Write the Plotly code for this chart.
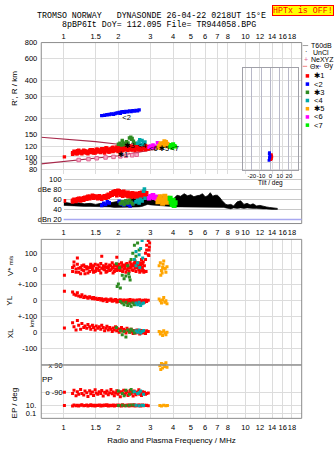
import math
import plotly.graph_objects as go

# ---------------- data ----------------
top_ticks = [1, 1.5, 2, 3, 4, 5, 6, 7, 8, 10, 12, 14, 16, 18]
mid_ticks = [1, 1.5, 2, 3, 4, 5, 6, 7, 8, 9, 10, 12, 14, 16, 18]
height_ticks = [80, 90, 100, 120, 150, 200, 300, 400, 600, 800]
amp_ticks = [100, 80, 60, 40, 20]
amp_ticktext = ["100", "dBe 80", "60", "40", "dBn 20"]
noise_level_db = 20
tilt_ticks = [-20, -10, 0, 10, 20]

# series 1 (red) echoes
red_f = [1.01, 1.12, 1.14, 1.17, 1.19, 1.21, 1.24, 1.26, 1.29, 1.31, 1.34, 1.36, 1.39, 1.41, 1.44, 1.46,
         1.49, 1.51, 1.54, 1.57, 1.60, 1.62, 1.65, 1.68, 1.71, 1.73, 1.76, 1.79, 1.82, 1.85, 1.87, 1.90,
         1.93, 1.96, 1.99, 2.02, 2.05, 2.08, 2.11, 2.14, 2.17, 2.20, 2.23, 2.26, 2.29, 2.32, 2.35, 2.38,
         2.41, 2.44, 2.47, 2.50, 2.53, 2.56, 2.59, 2.62, 2.65, 2.68, 2.71, 2.74, 2.78, 2.82, 2.86, 2.92]
red_h = [100, 108, 111, 106, 112, 109, 107, 110, 113, 108, 111, 106, 109, 114, 110, 112,
         107, 115, 111, 109, 113, 116, 110, 112, 118, 111, 114, 109, 116, 113, 119, 112,
         115, 117, 110, 121, 114, 118, 112, 116, 120, 115, 113, 119, 117, 122, 114, 118,
         121, 116, 119, 124, 117, 115, 122, 120, 118, 125, 116, 121, 119, 123, 117, 116]
red_h2 = [None, 105, 107, 110, 106, 113, 111, 106, 108, 112, 107, 110, 113, 108, 114, 107,
          112, 109, 115, 113, 108, 111, 116, 107, 113, 117, 109, 115, 111, 118, 110, 116,
          112, 120, 115, 112, 119, 111, 122, 113, 116, 124, 118, 112, 122, 116, 120, 113,
          117, 123, 112, 118, 121, 126, 113, 117, 123, 114, 120, 117, 124, 114, 120, 121]
red_db = [57, 58, 60, 56, 61, 59, 62, 60, 63, 61, 64, 62, 66, 63, 65, 67,
          64, 66, 63, 65, 62, 64, 66, 63, 65, 68, 64, 67, 70, 73, 75, 72,
          77, 74, 78, 71, 75, 69, 73, 76, 70, 72, 68, 74, 66, 71, 69, 73,
          67, 70, 66, 72, 68, 71, 65, 73, 69, 74, 70, 72, 75, 71, 66, 62]
red_db2 = [None, 55, 57, 59, 58, 62, 57, 61, 58, 64, 60, 66, 61, 64, 68, 62,
           66, 63, 61, 67, 64, 60, 63, 67, 62, 65, 70, 66, 73, 68, 71, 76,
           70, 67, 73, 77, 68, 72, 66, 70, 74, 67, 71, 65, 72, 68, 64, 70,
           72, 65, 69, 64, 71, 66, 69, 62, 67, 65, 73, 68, 70, 67, 73, 64]
red_vs = [-40, 10, 45, -20, 70, 5, -30, 20, -10, 15, 0, -25, 10, 30, -5, 20,
          -15, 5, 25, -10, 35, 80, 0, 15, -20, 10, 5, 25, -5, 40, 10, -15,
          20, 75, 5, 30, -10, 15, 25, 0, 20, -20, 35, 10, 5, 45, 15, -5,
          25, 20, 50, 30, 10, 40, 15, -20, 25, 60, 5, 45, -15, 100, 150, 180]
red_vs2 = [None, -15, 20, 0, 30, -20, 10, -5, 25, -30, 15, 5, -15, 20, 10, -20,
           30, -10, 0, 15, -25, 5, 20, -5, 30, -15, 15, -10, 20, 5, -25, 25,
           0, -10, 20, -5, 10, 40, -15, 20, 5, 30, -5, 25, -15, 10, 30, 20,
           -10, 35, 5, -15, 30, 15, -5, 20, 40, 10, 30, -10, 20, 60, 120, 90]
red_yl = [60, 55, 40, 35, 50, 30, 25, 38, 20, 28, 22, 15, 25, 18, 12, 20,
          10, 15, 8, 14, 5, 12, 0, 8, 10, -5, 6, 2, 10, -3, 5, 0,
          8, -8, 3, -5, 6, -10, 0, 5, -6, 2, -12, 4, -3, 8, -8, -2,
          5, -10, 0, -6, 4, -12, -2, 6, -15, 0, -8, 3, -10, 5, -5, 2]
red_xl = [28, 60, 35, 15, 75, 45, 20, 55, 30, 40, 25, 50, 35, 20, 45, 30,
          15, 40, 25, 35, 20, 45, 30, 10, 25, 38, 15, 30, 20, 5, 28, 15,
          35, 10, 22, 0, 18, 30, 8, 20, 12, -5, 25, 10, 15, 0, 20, 5,
          -8, 12, 8, -5, 15, 0, 10, -10, 5, 12, -5, 8, 0, -8, 10, 5]
red_pp = [-88, -95, -75, -110, -85, -100, -70, -95, -105, -80, -90, -115, -78, -98, -86, -108,
          -72, -92, -100, -84, -96, -76, -112, -88, -94, -80, -104, -90, -70, -98, -86, -110,
          -92, -78, -100, -88, -116, -84, -96, -74, -102, -90, -82, -108, -94, -76, -98, -88,
          -112, -80, -92, -104, -86, -96, -72, -100, -90, -108, -84, -94, -88, -100, -96, -92]
red_ep = [10, 8, 14, 9, 12, 7, 11, 15, 9, 10, 13, 8, 10, 16, 9, 11,
          7, 12, 10, 14, 8, 11, 9, 13, 10, 15, 8, 12, 9, 10, 14, 7,
          11, 10, 13, 9, 12, 8, 16, 10, 9, 12, 10, 14, 8, 11, 13, 9,
          10, 15, 8, 12, 10, 9, 13, 11, 7, 10, 14, 9, 11, 10, 12, 9]
red_arc_f = [2.45, 2.52, 2.60, 2.68, 2.76, 2.84, 2.94, 2.95, 2.96, 2.97]
red_arc_vs = [38, 22, 5, -12, -20, -15, 85, 120, 140, 165]

# series 2 (blue)
blue_f = [1.62, 1.68, 1.73, 1.78, 1.83, 1.88, 1.92, 1.97, 2.02, 2.05, 2.08,
          2.12, 2.16, 2.20, 2.25, 2.30, 2.35, 2.40, 2.45, 2.50, 2.55, 2.60]
blue_h = [212, 213, 215, 216, 218, 217, 220, 222, 224, 221, 226,
          228, 225, 229, 227, 231, 228, 232, 230, 233, 231, 235]
blue_amp_f = [1.62, 1.66, 1.70, 1.74, 1.78, 2.02, 2.08, 2.14, 2.20, 2.26, 2.32, 2.40]
blue_amp_db = [48, 52, 50, 55, 53, 56, 51, 49, 54, 50, 47, 52]

# series 3 (green)
green_f = [2.00, 2.04, 2.08, 2.12, 2.17, 2.22, 2.26, 2.30, 2.34, 2.38, 2.42, 2.46, 2.10, 2.15, 2.36]
green_h = [126, 128, 124, 130, 127, 132, 129, 141, 143, 140, 133, 128, 135, 125, 138]
green_amp_f = [2.05, 2.10, 2.15, 2.20, 2.25, 2.30, 2.35, 2.40]
green_amp_db = [52, 55, 50, 57, 53, 58, 54, 51]
green_vs_f = [1.95, 2.00, 2.03, 2.05, 2.10, 2.15, 2.20, 2.25, 2.30, 2.32, 2.35, 2.40, 2.45, 2.50, 2.55, 2.60, 1.97, 2.28]
green_vs = [33, -95, 8, -120, -40, -62, -44, 20, -50, -70, 60, 100, 150, 80, 164, 120, -110, -30]
green_yl_f = [2.05, 2.10, 2.15, 2.20, 2.25, 2.30, 2.35, 2.40, 2.45]
green_yl = [-5, -15, -25, -10, -30, -20, -35, -15, -25]
green_xl_f = [1.95, 2.05, 2.10, 2.15, 2.20, 2.25, 2.30, 2.35, 2.40, 2.45]
green_xl = [30, 10, -15, 5, -30, 15, 0, 20, 10, -5]
green_pp_f = [2.00, 2.10, 2.20, 2.30, 2.40, 2.15, 2.35]
green_pp = [-80, -95, -75, -100, -85, -110, -70]
green_ep_f = [2.00, 2.10, 2.20, 2.30, 2.40]
green_ep = [10, 12, 9, 11, 13]

# series 4 (cyan)
cyan_f = [2.55, 2.60, 2.65, 2.70, 2.75, 2.80, 2.62, 2.72]
cyan_h = [128, 132, 126, 135, 129, 131, 137, 125]
cyan_amp_f = [2.50, 2.55, 2.60, 2.65, 2.70, 2.75, 2.78, 2.80]
cyan_amp_db = [55, 58, 53, 60, 57, 76, 80, 62]
cyan_vs_f = [2.45, 2.50, 2.55, 2.60, 2.65, 2.70, 2.72, 2.50, 2.62]
cyan_vs = [60, 20, 40, 90, 130, 180, 70, 110, 10]
cyan_yl_f = [2.50, 2.55, 2.60, 2.65, 2.70, 2.75]
cyan_yl = [-15, -25, -10, -30, -20, -15]
cyan_xl_f = [2.50, 2.55, 2.60, 2.65, 2.70, 2.75]
cyan_xl = [10, 0, 15, -5, 5, 12]
cyan_pp_f = [2.45, 2.55, 2.65, 2.75, 2.60]
cyan_pp = [-85, -95, -80, -100, -90]
cyan_ep_f = [2.50, 2.60, 2.70, 2.75]
cyan_ep = [11, 9, 12, 10]

# series 5 (orange)
orange_f = [3.30, 3.35, 3.40, 3.45, 3.50, 3.55, 3.60, 3.65, 3.70, 3.75, 3.80, 3.42, 3.58]
orange_h = [118, 122, 126, 120, 124, 129, 122, 131, 127, 125, 121, 128, 133]
orange_amp_f = [3.30, 3.35, 3.40, 3.45, 3.50, 3.55, 3.60, 3.65, 3.70, 3.75, 3.80]
orange_amp_db = [55, 60, 65, 58, 52, 58, 66, 60, 54, 62, 57]
orange_vs_f = [3.35, 3.40, 3.45, 3.50, 3.55, 3.60, 3.65, 3.70, 3.42, 3.52, 3.62, 3.48]
orange_vs = [20, 40, -10, 10, 50, 0, -20, 15, -40, 30, 5, -25]
orange_yl_f = [3.35, 3.40, 3.45, 3.50, 3.55, 3.60, 3.65, 3.70]
orange_yl = [10, 0, -15, 5, 20, -10, 0, -20]
orange_xl_f = [3.35, 3.40, 3.45, 3.50, 3.55, 3.60, 3.65, 3.70]
orange_xl = [5, -10, 0, -20, 10, -5, -15, 0]
orange_pp_f = [3.38, 3.45, 3.50, 3.55, 3.60, 3.65, 3.70, 3.42, 3.58]
orange_pp = [85, 100, 70, 95, 80, 105, 75, 60, 90]
orange_ep_f = [3.38, 3.45, 3.55, 3.65, 3.72]
orange_ep = [10, 8, 11, 9, 10]

# series 6 (magenta) and 7 (lime)
mag_f = [2.95, 3.00, 3.05, 3.10, 3.15, 3.20, 3.28]
mag_h = [119, 122, 118, 124, 121, 120, 129]
mag_amp_f = [2.95, 3.00, 3.05, 3.10, 3.15, 3.20, 3.25]
mag_amp_db = [62, 66, 64, 68, 63, 65, 61]
lime_f = [3.85, 3.90, 3.95, 4.00, 4.05, 4.10]
lime_h = [120, 124, 118, 126, 122, 121]
lime_amp_f = [3.85, 3.90, 3.95, 4.00, 4.05, 4.10]
lime_amp_db = [62, 55, 50, 58, 48, 53]

# NeXYZ profile points and model traces
ne_f = [1.21, 1.37, 1.52, 1.70, 1.88, 2.05, 2.20, 2.38, 2.52]
ne_h = [94.5, 96, 97.5, 99, 100, 101, 102, 103, 104]
trace_f = [0.75, 1.0, 1.5, 2.0, 2.5, 3.0, 3.3]
trace_upper_h = [143, 139, 132, 126, 121, 117, 116]
trace_lower_h = [88, 92, 97, 102, 108, 113, 116]

# total amplitude envelope (black)
blk_f = [1.0, 1.1, 1.2, 1.3, 1.4, 1.5, 1.6, 1.7, 1.8, 1.9, 2.0, 2.1, 2.2, 2.3, 2.4, 2.5, 2.6, 2.7, 2.8, 2.9,
         3.0, 3.2, 3.4, 3.6, 3.8, 4.0, 4.2, 4.4, 4.6, 4.8, 5.0, 5.2, 5.4, 5.6, 5.8, 6.0, 6.2, 6.4, 6.6, 6.8,
         7.0, 7.2, 7.4, 7.6, 7.8, 8.0, 8.3, 8.6, 9.0, 9.4, 9.8, 10.2, 10.6, 11.0, 11.5, 12.0, 12.5, 13.0,
         13.5, 14.0, 14.5, 15.0]
blk_hi = [54, 52, 53, 51, 52, 50, 52, 50, 53, 55, 56, 55, 58, 57, 62, 60, 63, 66, 79, 62,
          70, 66, 68, 64, 66, 60, 68, 66, 71, 67, 69, 65, 67, 68, 71, 65, 67, 73, 66, 68,
          68, 64, 58, 54, 50, 49, 50, 47, 55, 57, 50, 52, 49, 51, 47, 48, 46, 45, 44, 43, 42, 42]
blk_lo = [48, 47, 47, 46, 46, 46, 45, 45, 45, 44, 44, 45, 45, 44, 44, 45, 45, 46, 48, 50,
          49, 48, 47, 47, 46, 45, 45, 45, 45, 44, 45, 45, 44, 45, 44, 45, 45, 44, 44, 44,
          45, 44, 44, 44, 43, 42, 41, 43, 42, 43, 42, 43, 42, 42, 42, 41, 41, 41, 40, 40, 40, 40]

# tilt inset
tilt_red = [0.5, 1.0, 1.5, 1.2, 0.8, 1.0]
tilt_red_h = [95, 97, 100, 102, 98, 104]
tilt_blue = [-1.5, -1.0, -0.5, -1.2, -0.8, -1.0]
tilt_blue_h = [94, 98, 102, 106, 100, 108]

# series labels in the height panel
lab_text = ["✱1", "<2", "✱3", "<4", "<6", "✱5", "<7"]
lab_f = [2.12, 2.22, 2.30, 2.70, 3.12, 3.56, 4.08]
lab_h = [103, 204, 122, 122, 115, 115, 115]

# ---------------- layout geometry (pixels of the 335x451 page) ----------------
W, H = 335, 451
def fx(px): return px / W
def fy(py): return 1 - py / H
F1_PX, DEC_PX = 62.0, 183.0
L_PX, R_PX = 39.5, 301.5
def lf(px): return (px - F1_PX) / DEC_PX
def lh(py): return math.log10(800) - (py - 39) / 128.0
def db(py): return 100 - (py - 177) / 0.5125
VPX = 100 / 16.0          # m/s (or km) per pixel in lower panel
PPX = 180 / 28.0          # deg per pixel for PP

RED, BLUE, GREEN, CYAN = "#ff0000", "#0000ff", "#2e8b22", "#00a8a8"
ORANGE, MAG, LIME = "#ffa500", "#ff00ff", "#00ee00"
GRID = "#dcdcdc"
FRAME = "#8c8c8c"
FONT = "Liberation Sans, Arial, DejaVu Sans"
MONO = "Liberation Mono, DejaVu Sans Mono, monospace"

fig = go.Figure()

def pts(x, y, color, xa, ya, size=3.0, symbol="square"):
    fig.add_trace(go.Scatter(x=x, y=y, mode="markers", xaxis=xa, yaxis=ya,
                             marker=dict(color=color, size=size, symbol=symbol, line=dict(width=0)),
                             showlegend=False, hoverinfo="skip"))

# height panel
fig.add_trace(go.Scatter(x=trace_f, y=trace_upper_h, mode="lines", xaxis="x", yaxis="y",
                         line=dict(color="#a8284a", width=1.1), showlegend=False, hoverinfo="skip"))
fig.add_trace(go.Scatter(x=trace_f, y=trace_lower_h, mode="lines", xaxis="x", yaxis="y",
                         line=dict(color="#a8284a", width=1.1), showlegend=False, hoverinfo="skip"))
pts(red_f, red_h, RED, "x", "y", 3.4)
pts(red_f, red_h2, RED, "x", "y", 3.4)
pts(blue_f, blue_h, BLUE, "x", "y", 3.4)
pts(green_f, green_h, GREEN, "x", "y", 3.4)
pts(cyan_f, cyan_h, CYAN, "x", "y", 3.4)
pts(mag_f, mag_h, MAG, "x", "y", 3.6)
pts(orange_f, orange_h, ORANGE, "x", "y", 4)
pts(lime_f, lime_h, LIME, "x", "y", 4)
fig.add_trace(go.Scatter(x=ne_f, y=ne_h, mode="markers", xaxis="x", yaxis="y",
                         marker=dict(color="#f7b0c8", size=3.5, symbol="square",
                                     line=dict(color="#e06090", width=1)),
                         showlegend=False, hoverinfo="skip"))
fig.add_trace(go.Scatter(x=lab_f, y=lab_h, mode="text", text=lab_text, xaxis="x", yaxis="y",
                         textfont=dict(family=FONT, size=7.5, color="black"),
                         showlegend=False, hoverinfo="skip"))

# tilt inset
pts(tilt_red, tilt_red_h, RED, "x3", "y3", 2.8)
pts(tilt_blue, tilt_blue_h, BLUE, "x3", "y3", 2.8)

# amplitude panel
fig.add_trace(go.Scatter(x=blk_f, y=blk_lo, mode="lines", xaxis="x2", yaxis="y2",
                         line=dict(color="black", width=0.5), showlegend=False, hoverinfo="skip"))
fig.add_trace(go.Scatter(x=blk_f, y=blk_hi, mode="lines", xaxis="x2", yaxis="y2", fill="tonexty",
                         fillcolor="black", line=dict(color="black", width=0.8),
                         showlegend=False, hoverinfo="skip"))
pts(red_f, red_db, RED, "x2", "y2", 3.6)
pts(red_f, red_db2, RED, "x2", "y2", 3.6)
pts(blue_amp_f, blue_amp_db, BLUE, "x2", "y2", 3.6)
pts(green_amp_f, green_amp_db, GREEN, "x2", "y2", 3.6)
pts(cyan_amp_f, cyan_amp_db, CYAN, "x2", "y2", 3.6)
pts(mag_amp_f, mag_amp_db, MAG, "x2", "y2", 4.5)
pts(orange_amp_f, orange_amp_db, ORANGE, "x2", "y2", 5)
pts(lime_amp_f, lime_amp_db, LIME, "x2", "y2", 5)

# lower panel: V*, YL, XL, PP, EP
pts(red_f, red_vs, RED, "x4", "y4")
pts(red_f, red_vs2, RED, "x4", "y4")
pts(red_arc_f, red_arc_vs, RED, "x4", "y4")
pts(green_vs_f, green_vs, GREEN, "x4", "y4")
pts(cyan_vs_f, cyan_vs, CYAN, "x4", "y4")
pts(orange_vs_f, orange_vs, ORANGE, "x4", "y4")
pts(red_f, red_yl, RED, "x4", "y5")
pts(green_yl_f, green_yl, GREEN, "x4", "y5")
pts(cyan_yl_f, cyan_yl, CYAN, "x4", "y5")
pts(orange_yl_f, orange_yl, ORANGE, "x4", "y5")
pts(red_f, red_xl, RED, "x4", "y6")
pts(green_xl_f, green_xl, GREEN, "x4", "y6")
pts(cyan_xl_f, cyan_xl, CYAN, "x4", "y6")
pts(orange_xl_f, orange_xl, ORANGE, "x4", "y6")
pts(red_f, red_pp, RED, "x4", "y7")
pts(green_pp_f, green_pp, GREEN, "x4", "y7")
pts(cyan_pp_f, cyan_pp, CYAN, "x4", "y7")
pts(orange_pp_f, orange_pp, ORANGE, "x4", "y7")
pts(red_f, red_ep, RED, "x4", "y8")
pts(green_ep_f, green_ep, GREEN, "x4", "y8")
pts(cyan_ep_f, cyan_ep, CYAN, "x4", "y8")
pts(orange_ep_f, orange_ep, ORANGE, "x4", "y8")

tf = dict(family=FONT, size=7.5, color="black")
frange = [lf(L_PX), lf(R_PX)]
common_x = dict(type="log", showline=False, zeroline=False, ticks="", tickfont=tf, fixedrange=True,
                tickangle=0)

lo_top, lo_bot = 238, 419
layout = dict(
    width=W, height=H, margin=dict(l=0, r=0, t=0, b=0),
    paper_bgcolor="white", plot_bgcolor="rgba(0,0,0,0)", showlegend=False,
    font=dict(family=FONT, size=8, color="black"),
    xaxis=dict(common_x, domain=[fx(L_PX), fx(R_PX)], range=frange, side="top", anchor="y",
               tickvals=top_ticks, ticktext=[str(t) for t in top_ticks], showgrid=True,
               gridcolor=GRID, ticklabelstandoff=1),
    yaxis=dict(type="log", domain=[fy(172), fy(39)], range=[lh(172), lh(39)], anchor="x",
               tickvals=height_ticks, ticktext=[str(t) for t in height_ticks], ticks="",
               showgrid=True, gridcolor=GRID, zeroline=False, tickfont=tf, ticklabelstandoff=3),
    xaxis2=dict(common_x, domain=[fx(F1_PX), fx(R_PX)], range=[0, lf(R_PX)], side="bottom",
                anchor="y2", tickvals=mid_ticks, ticktext=[str(t) for t in mid_ticks],
                showgrid=False, ticklabelstandoff=3),
    yaxis2=dict(domain=[fy(222), fy(172)], range=[db(222), db(172)], anchor="x2",
                tickvals=amp_ticks, ticktext=amp_ticktext, ticks="", showgrid=True,
                gridcolor="#c8c8c8", zeroline=False, tickfont=tf, ticklabelstandoff=1),
    xaxis3=dict(domain=[fx(242), fx(298)], range=[-30, 30], anchor="y3", tickvals=tilt_ticks,
                ticktext=[str(t) for t in tilt_ticks], ticks="", showgrid=True, gridcolor="#b8b8c8",
                zeroline=False, showline=True, mirror=True, linecolor="#a0a0a8", linewidth=1,
                tickangle=0, tickfont=dict(family=FONT, size=6, color="black"), ticklabelstandoff=0,
                title=dict(text="Tilt / deg", font=dict(family=FONT, size=6.5), standoff=0)),
    yaxis3=dict(type="log", domain=[fy(168), fy(65)], range=[lh(168), lh(65)], anchor="x3",
                showticklabels=False, showgrid=False, zeroline=False, showline=True, mirror=True,
                linecolor="#a0a0a8", linewidth=1, ticks=""),
    xaxis4=dict(common_x, domain=[fx(L_PX), fx(R_PX)], range=frange, side="bottom", anchor="y4",
                tickvals=top_ticks, ticktext=[str(t) for t in top_ticks], showgrid=True,
                gridcolor=GRID, ticklabelstandoff=3,
                title=dict(text="Radio and Plasma Frequency / MHz", font=dict(family=FONT, size=8),
                           standoff=6)),
    yaxis4=dict(domain=[fy(lo_bot), fy(lo_top)], anchor="x4",
                range=[-(lo_bot - 268) * VPX, (268 - lo_top) * VPX], tickvals=[100, 0],
                ticktext=["100", "0"], ticks="", showgrid=True, gridcolor=GRID, zeroline=False,
                tickfont=tf, ticklabelstandoff=3),
    yaxis5=dict(overlaying="y4", anchor="x4", range=[-(lo_bot - 300) * VPX, (300 - lo_top) * VPX],
                tickvals=[100, 0], ticktext=["+-100", "0"], ticks="", showgrid=True, gridcolor=GRID,
                zeroline=False, tickfont=tf, ticklabelstandoff=3),
    yaxis6=dict(overlaying="y4", anchor="x4", range=[-(lo_bot - 332) * VPX, (332 - lo_top) * VPX],
                tickvals=[100, 0, -100], ticktext=["+-100", "0", "-100"], ticks="", showgrid=True,
                gridcolor=GRID, zeroline=False, tickfont=tf, ticklabelstandoff=3),
    yaxis7=dict(overlaying="y4", anchor="free", position=fx(F1_PX),
                range=[-90 - (lo_bot - 393) * PPX, 90 + (365 - lo_top) * PPX],
                tickvals=[90, -90], ticktext=["x 90", "o -90"], ticks="", showgrid=True,
                gridcolor=GRID, zeroline=False, tickfont=tf, ticklabelstandoff=1),
    yaxis8=dict(overlaying="y4", anchor="x4", type="log",
                range=[1 - (lo_bot - 406) / 4.0, 1 + (406 - lo_top) / 4.0],
                tickvals=[10, 0.1], ticktext=["10.", "0.1"], ticks="", showgrid=True,
                gridcolor=GRID, zeroline=False, tickfont=tf, ticklabelstandoff=4),
)
fig.update_layout(**layout)

shapes = [
    dict(type="rect", xref="paper", yref="paper", x0=fx(L_PX), x1=fx(R_PX), y0=fy(222), y1=fy(39),
         line=dict(color=FRAME, width=1)),
    dict(type="rect", xref="paper", yref="paper", x0=fx(L_PX), x1=fx(R_PX), y0=fy(lo_bot), y1=fy(lo_top),
         line=dict(color=FRAME, width=1)),
    dict(type="line", xref="x2 domain", x0=0, x1=1, yref="y2", y0=noise_level_db, y1=noise_level_db,
         line=dict(color="#a8a8f0", width=1.5)),
    dict(type="line", xref="x4 domain", x0=0, x1=1, yref="y7", y0=90, y1=90,
         line=dict(color="#909090", width=1.5)),
    # legend glyphs
    dict(type="line", xref="paper", yref="paper", x0=fx(302.5), x1=fx(308), y0=fy(42), y1=fy(42),
         line=dict(color="#a0a0a0", width=1)),
    dict(type="line", xref="paper", yref="paper", x0=fx(302.5), x1=fx(307), y0=fy(63), y1=fy(63),
         line=dict(color="#f08080", width=1)),
    dict(type="line", xref="paper", yref="paper", x0=fx(316), x1=fx(321), y0=fy(63), y1=fy(63),
         line=dict(color="#8080f0", width=1)),
]
leg_cols = [RED, BLUE, GREEN, CYAN, ORANGE, MAG, LIME]
leg_txt = ["✱1", "<2", "✱3", "<4", "✱5", "<6", "<7"]
for i, c in enumerate(leg_cols):
    yy = 72.7 + 8.3 * i
    shapes.append(dict(type="rect", xref="paper", yref="paper", x0=fx(305.5), x1=fx(309),
                       y0=fy(yy + 1.8), y1=fy(yy - 1.8), fillcolor=c, line=dict(width=0)))
fig.update_layout(shapes=shapes)

ann = []
def A(text, x, y, size=8, xanchor="center", angle=0, font=FONT, color="black", **kw):
    ann.append(dict(text=text, x=fx(x), y=fy(y), xref="paper", yref="paper", showarrow=False,
                    xanchor=xanchor, yanchor="middle", textangle=angle,
                    font=dict(family=font, size=size, color=color), **kw))

A("TROMSO NORWAY   DYNASONDE 26-04-22 0218UT 15°E", 150, 12, size=8.3, font=MONO)
A("8pBP6It DoY= 112.095 File= TR944058.BPG", 157.5, 20.5, size=8.3, font=MONO)
A("HPTx is OFF!", 302.5, 7, size=8.3, font=MONO, color="#ff0000", bgcolor="#ffff00",
  bordercolor="#ff0000", borderwidth=1, borderpad=0)
A("R', R / km", 12, 85, angle=-90)
A("V* <span style='font-size:6px'>m/s</span>", 8, 265, angle=-90)
A("YL", 8, 300, angle=-90)
A("XL", 8, 333, angle=-90)
A("<span style='font-size:6px'>km</span>", 31, 323, angle=-90)
A("PP", 46, 380)
A("EP / deg", 13, 403, angle=-90)
A("T60dB", 309, 42, size=7, xanchor="left")
A("·", 306, 48.5, size=7, xanchor="center")
A("UnCl", 310.5, 49, size=7, xanchor="left")
A("+", 305.5, 56, size=7, xanchor="center", color="#e06090")
A("NeXYZ", 308.5, 56, size=7, xanchor="left")
A("Θx", 307.5, 63, size=7, xanchor="left")
A("Θy", 321.5, 63, size=7, xanchor="left")
for i, t in enumerate(leg_txt):
    A(t, 311.5, 72.7 + 8.3 * i, size=7.5, xanchor="left")
fig.update_layout(annotations=ann)

fig.write_html("out.html", config={"displayModeBar": False, "staticPlot": True})
